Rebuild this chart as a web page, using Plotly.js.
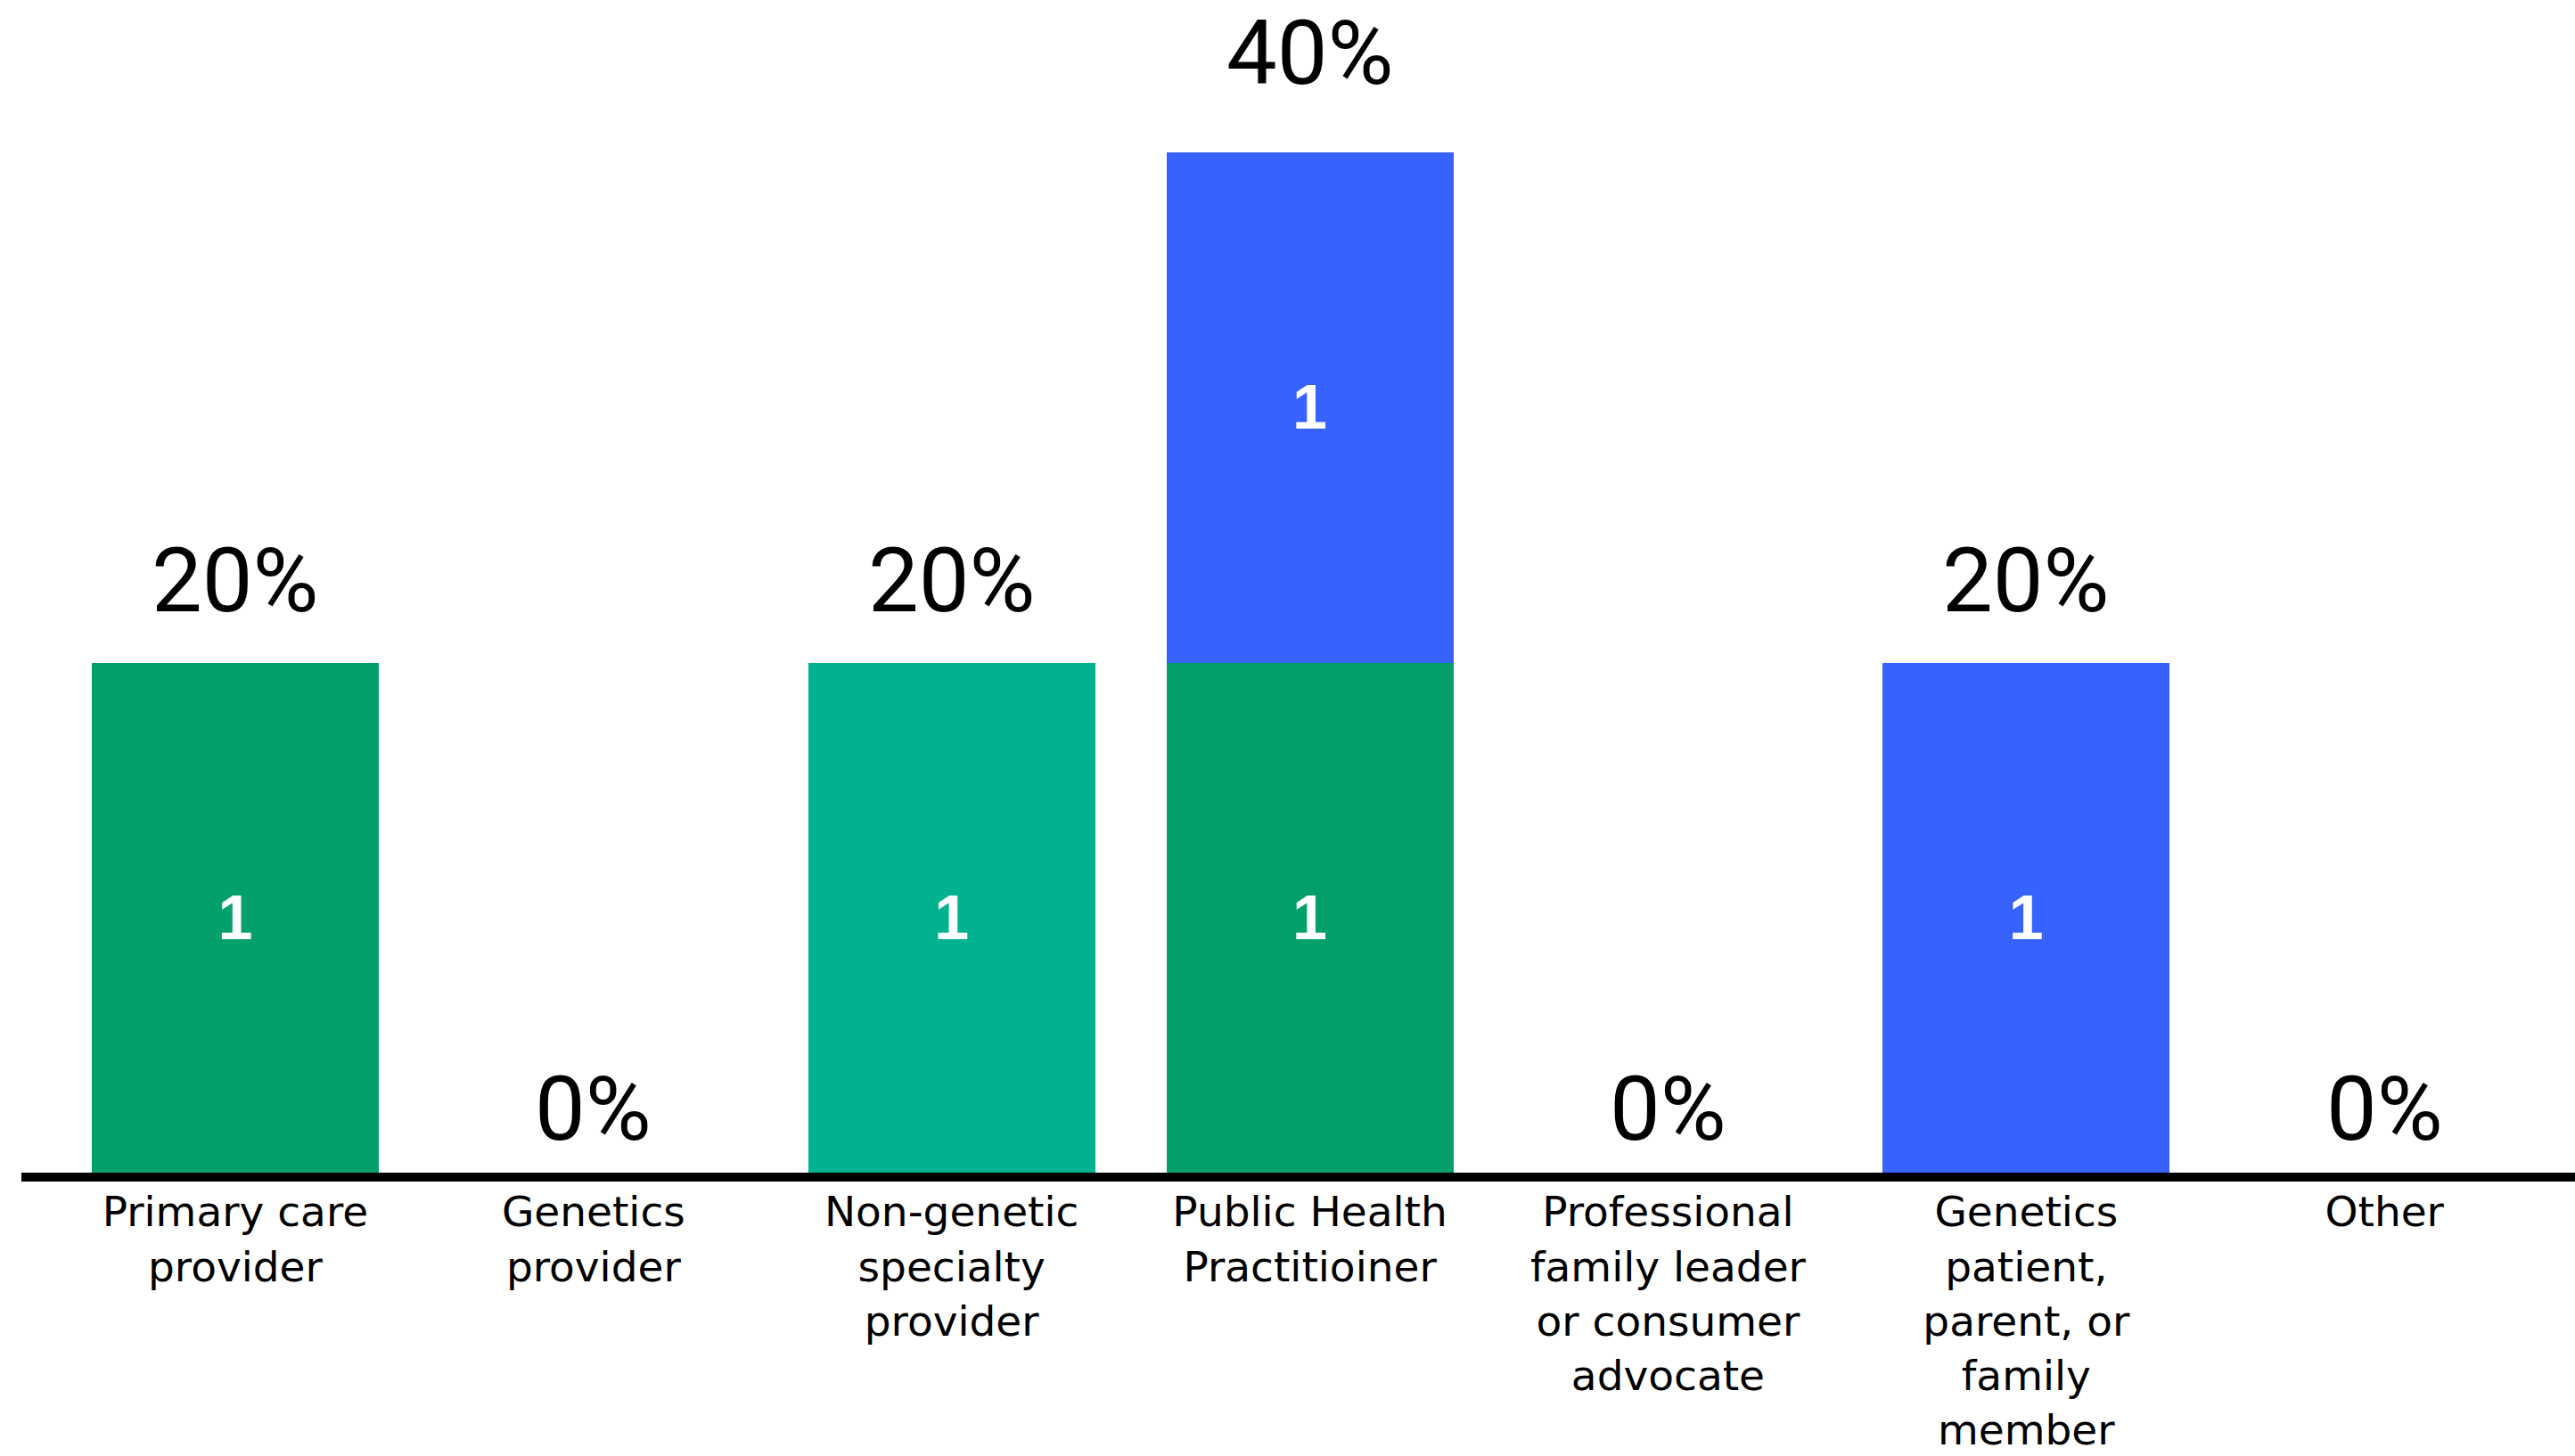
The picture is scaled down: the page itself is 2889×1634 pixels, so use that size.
<!DOCTYPE html>
<html>
<head>
<meta charset="utf-8">
<script src="https://cdn.plot.ly/plotly-3.0.1.min.js"></script>
<style>
html,body{margin:0;padding:0;background:#fff;}
#chart{width:2889px;height:1634px;}
</style>
</head>
<body>
<div id="chart"></div>
<script>
const categories = [
  "Primary care<br>provider",
  "Genetics<br>provider",
  "Non-genetic<br>specialty<br>provider",
  "Public Health<br>Practitioiner",
  "Professional<br>family leader<br>or consumer<br>advocate",
  "Genetics<br>patient,<br>parent, or<br>family<br>member",
  "Other"
];
const seriesGreen = [1, 0, 0, 1, 0, 0, 0];
const seriesTeal  = [0, 0, 1, 0, 0, 0, 0];
const seriesBlue  = [0, 0, 0, 1, 0, 1, 0];
const percentLabels = ["20%", "0%", "20%", "40%", "0%", "20%", "0%"];

const colors = {green: "#04A06B", teal: "#00B28F", blue: "#3762FF"};

function barTrace(vals, color, name) {
  const y = vals.map(v => v === 0 ? null : v);
  return {
    type: "bar",
    name: name,
    x: categories,
    y: y,
    text: y.map(v => v == null ? "" : String(v)),
    textposition: "inside",
    insidetextanchor: "middle",
    textangle: 0,
    insidetextfont: {family: "Liberation Sans, Arial, sans-serif", size: 70, color: "#ffffff", weight: "bold"},
    marker: {color: color, line: {width: 0}},
    hoverinfo: "skip",
    cliponaxis: false
  };
}

const totals = categories.map((c, i) => seriesGreen[i] + seriesTeal[i] + seriesBlue[i]);

const data = [
  barTrace(seriesGreen, colors.green, "Green"),
  barTrace(seriesTeal, colors.teal, "Teal"),
  barTrace(seriesBlue, colors.blue, "Blue")
];

const annotations = categories.map((c, i) => ({
  x: c,
  y: totals[i],
  xref: "x",
  yref: "y2",
  text: percentLabels[i],
  showarrow: false,
  xanchor: "center",
  yanchor: "middle",
  font: {family: "Roboto, Liberation Sans, sans-serif", size: 101, color: "#000000"}
}));

const layout = {
  width: 2889,
  height: 1634,
  margin: {l: 24, r: 0, t: 0, b: 318, pad: 0},
  paper_bgcolor: "#ffffff",
  plot_bgcolor: "#ffffff",
  showlegend: false,
  barmode: "stack",
  bargap: 0.199,
  xaxis: {
    type: "category",
    range: [-0.597, 6.532],
    showline: true,
    linecolor: "#000000",
    linewidth: 10,
    showgrid: false,
    zeroline: false,
    ticks: "",
    ticklen: 0,
    ticklabelstandoff: -6,
    tickfont: {family: "DejaVu Sans, sans-serif", size: 47, color: "#000000"},
    fixedrange: true
  },
  yaxis: {
    range: [0, 2.2987],
    visible: false,
    showgrid: false,
    zeroline: false,
    fixedrange: true
  },
  yaxis2: {
    overlaying: "y",
    range: [-0.1215, 2.0996],
    visible: false,
    showgrid: false,
    zeroline: false,
    fixedrange: true
  },
  annotations: annotations
};

Plotly.newPlot("chart", data, layout, {displayModeBar: false, staticPlot: true});
</script>
</body>
</html>
